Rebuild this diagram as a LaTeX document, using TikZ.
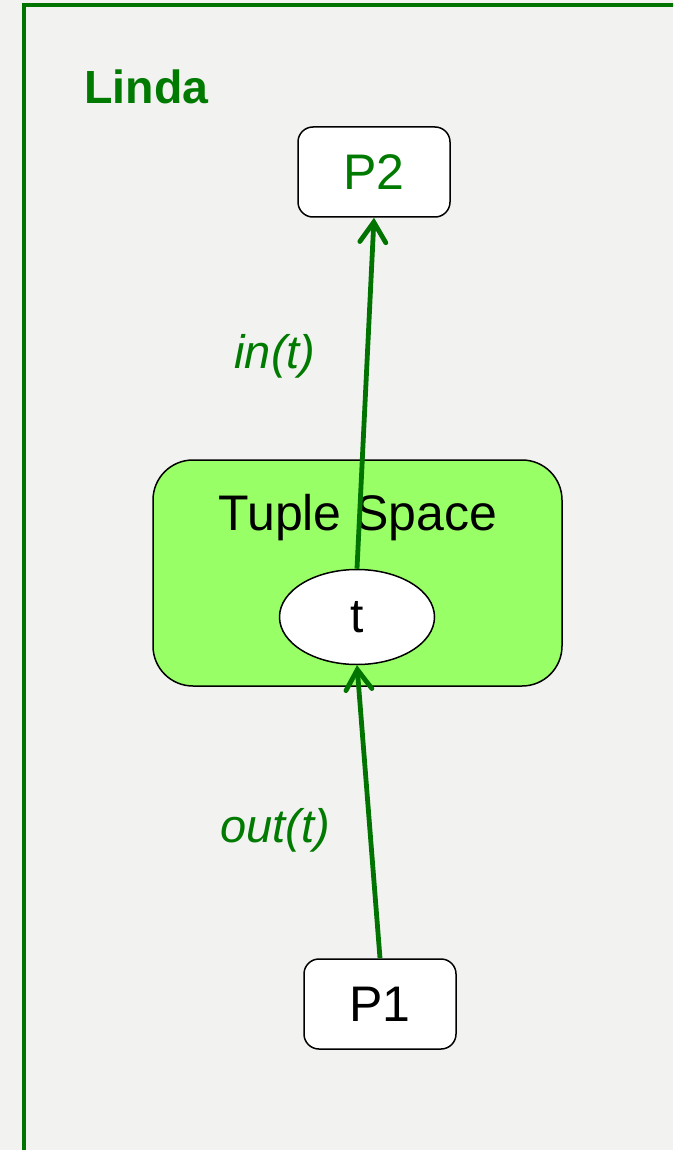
\documentclass[tikz,border=0pt]{standalone}
\usepackage{fontspec}
\setmainfont{Liberation Sans}
\usetikzlibrary{arrows.meta,shapes.geometric}
\definecolor{pagebg}{HTML}{F2F2F0}
\definecolor{framegreen}{HTML}{007300}
\definecolor{textgreen}{HTML}{007A00}
\definecolor{spacefill}{HTML}{99FF66}
\tikzset{
  proc/.style={draw=black, line width=1.5pt, fill=white, rounded corners=15pt,
    minimum width=152pt, minimum height=90pt, inner sep=0pt,
    font=\fontsize{50}{60}\selectfont},
  flow/.style={draw=framegreen, line width=4.8pt,
    -{Straight Barb[length=20pt,width=26pt,line cap=round]}},
  oplabel/.style={text=textgreen, font=\fontsize{47}{56}\selectfont\itshape}
}
\begin{document}
\begin{tikzpicture}[x=1pt,y=-1pt]
  \useasboundingbox (0,0) rectangle (673,1150);
  \fill[pagebg] (0,0) rectangle (673,1150);
  \begin{scope}
    \clip (0,0) rectangle (673,1150);
    \draw[framegreen, line width=3.5pt] (24,1200) -- (24,5) -- (720,5);
  \end{scope}

  \node[anchor=base west, text=textgreen, font=\fontsize{46.5}{56}\selectfont\bfseries]
    (title) at (81,104) {Linda};

  % tuple space container
  \node[draw=black, line width=1.5pt, fill=spacefill, rounded corners=40pt,
    minimum width=409pt, minimum height=226pt] (space) at (357.5,573) {};
  \node[anchor=base, font=\fontsize{50}{60}\selectfont] (spacelabel) at (358,530) {Tuple Space};

  % the tuple
  \node[ellipse, draw=black, line width=1.5pt, fill=white,
    minimum width=155pt, minimum height=95pt, inner sep=0pt,
    font=\fontsize{48}{58}\selectfont] (tuple) at (357,617) {t};

  % processes
  \node[proc, text=textgreen] (p2) at (374,172) {P2};
  \node[proc] (p1) at (380,1004) {P1};

  % operations
  \draw[flow] (p1.north) -- (tuple.south);
  \draw[flow] (tuple.north) -- (p2.south);

  \node[oplabel] (inlabel) at (275,356) {in(t)};
  \node[oplabel] (outlabel) at (275,830) {out(t)};
\end{tikzpicture}
\end{document}
